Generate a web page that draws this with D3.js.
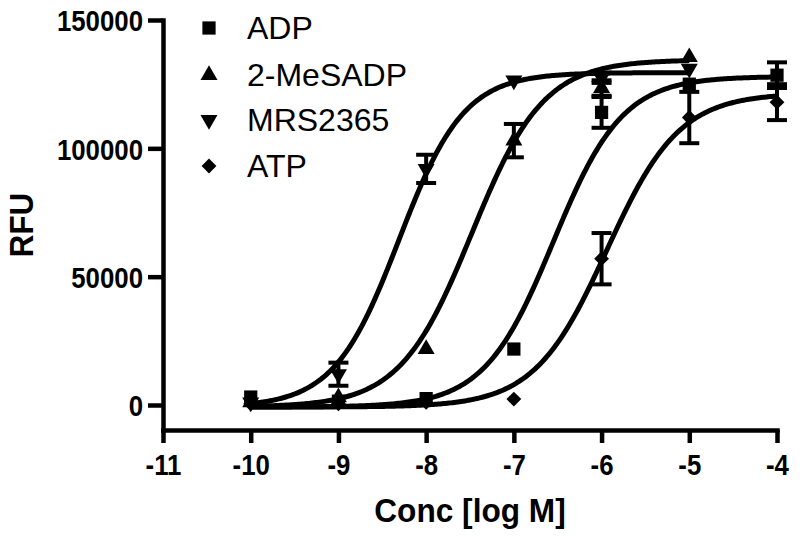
<!DOCTYPE html>
<html>
<head>
<meta charset="utf-8">
<script src="https://cdn.jsdelivr.net/npm/d3@7"></script>
<style>
  body { margin: 0; background: #fff; }
  svg { display: block; }
</style>
</head>
<body>
<div id="chart"></div>
<script>
// log concentrations where the points were measured
const logConc = [-10, -9, -8, -7, -6, -5, -4];
const seriesNames = ['ADP', '2-MeSADP', 'MRS2365', 'ATP'];

// mean RFU (null = not measured)
const adpMean = [3100, 1500, 2500, 21800, 114000, 125000, 128500];
const meSadpMean = [1000, 3000, 21800, 103000, 123500, 135500, null];
const mrsMean = [1000, 12000, 92000, 126500, 127500, 131000, null];
const atpMean = [500, 500, 1000, 2300, 57000, 112000, 118000];

// error (SEM), 0 = no bar drawn
const adpErr = [0, 0, 0, 0, 6000, 0, 5000];
const meSadpErr = [0, 0, 0, 6500, 3000, 0, 0];
const mrsErr = [0, 4500, 5500, 0, 2000, 0, 0];
const atpErr = [0, 0, 0, 0, 10000, 10000, 7000];

// sigmoidal fit parameters per series
const fitBottom = [-800, -800, -800, -800];
const fitTop = [128000, 134500, 129500, 121500];
const fitLogEC50 = [-6.55, -7.48, -8.31, -5.94];
const fitHill = [1.1, 1.06, 1.17, 1.05];
const fitEnd = [-4, -5, -5, -4];

const xTicks = [-11, -10, -9, -8, -7, -6, -5, -4];
const yTicks = [0, 50000, 100000, 150000];

const means = [adpMean, meSadpMean, mrsMean, atpMean];
const errs = [adpErr, meSadpErr, mrsErr, atpErr];

const width = 800, height = 537;
const svg = d3.select('#chart').append('svg')
  .attr('width', width)
  .attr('height', height);

const x = d3.scaleLinear().domain([-11, -4]).range([163, 777]);
const y = d3.scaleLinear().domain([-9740, 150000]).range([430, 20]);

const squeeze = 0.86; // tick labels look condensed

// symbols
const symbolFor = [
  d3.symbol().type(d3.symbolSquare).size(175),
  d3.symbol().type(d3.symbolTriangle).size(125),
  d3.symbol().type(d3.symbolTriangle).size(125),
  d3.symbol().type(d3.symbolSquare).size(110)
];
const rotateFor = [0, 0, 180, 45];

function drawSymbol(g, i, cx, cy) {
  g.append('path')
    .attr('d', symbolFor[i]())
    .attr('transform', `translate(${cx},${cy}) rotate(${rotateFor[i]})`)
    .attr('fill', '#000');
}

function fitValue(i, v) {
  return fitBottom[i] + (fitTop[i] - fitBottom[i]) /
    (1 + Math.pow(10, (fitLogEC50[i] - v) * fitHill[i]));
}

// axes (plain hyphen minus, like the original)
const xAxis = svg.append('g')
  .attr('transform', `translate(0,430)`)
  .call(d3.axisBottom(x).tickValues(xTicks).tickSize(13).tickSizeOuter(0).tickFormat(d => String(d)));

const yAxis = svg.append('g')
  .attr('transform', `translate(163,0)`)
  .call(d3.axisLeft(y).tickValues(yTicks).tickSize(15).tickSizeOuter(0).tickFormat(d => String(d)));

[xAxis, yAxis].forEach(a => {
  a.selectAll('path, line').attr('stroke', '#000').attr('stroke-width', 4.5);
  a.select('.domain').attr('stroke-linecap', 'square');
  a.selectAll('text')
    .attr('font-family', '"Liberation Sans", Arial, sans-serif')
    .attr('font-weight', 'bold')
    .attr('font-size', 30)
    .attr('fill', '#000');
});

xAxis.selectAll('text')
  .attr('y', 45)
  .attr('dy', 0)
  .attr('transform', `scale(${squeeze},1)`);

yAxis.selectAll('text')
  .attr('x', -20 / squeeze)
  .attr('dy', '0.36em')
  .attr('transform', `scale(${squeeze},1)`);

// axis titles
svg.append('text')
  .attr('transform', `translate(470,522) scale(0.93,1)`)
  .attr('text-anchor', 'middle')
  .attr('font-family', '"Liberation Sans", Arial, sans-serif')
  .attr('font-weight', 'bold')
  .attr('font-size', 34)
  .text('Conc [log M]');

svg.append('text')
  .attr('transform', `translate(33,225) rotate(-90) scale(0.92,1)`)
  .attr('text-anchor', 'middle')
  .attr('font-family', '"Liberation Sans", Arial, sans-serif')
  .attr('font-weight', 'bold')
  .attr('font-size', 34)
  .text('RFU');

// fitted curves
const line = d3.line().x(d => x(d[0])).y(d => y(d[1])).curve(d3.curveLinear);
const plot = svg.append('g');

seriesNames.forEach((name, i) => {
  const pts = d3.range(-10, fitEnd[i] + 0.001, 0.02).map(v => [v, fitValue(i, v)]);
  plot.append('path')
    .datum(pts)
    .attr('d', line)
    .attr('fill', 'none')
    .attr('stroke', '#000')
    .attr('stroke-width', 5);
});

// error bars + points
seriesNames.forEach((name, i) => {
  const g = plot.append('g');
  logConc.forEach((c, j) => {
    const m = means[i][j];
    if (m === null) return;
    const e = errs[i][j];
    if (e > 0) {
      g.append('line')
        .attr('x1', x(c)).attr('x2', x(c))
        .attr('y1', y(m - e)).attr('y2', y(m + e))
        .attr('stroke', '#000').attr('stroke-width', 4);
      [m - e, m + e].forEach(v => {
        g.append('line')
          .attr('x1', x(c) - 10).attr('x2', x(c) + 10)
          .attr('y1', y(v)).attr('y2', y(v))
          .attr('stroke', '#000').attr('stroke-width', 4);
      });
    }
    drawSymbol(g, i, x(c), y(m));
  });
});

// legend
const legendY = [28, 75, 120, 166];
const legend = svg.append('g');
seriesNames.forEach((name, i) => {
  drawSymbol(legend, i, 209, legendY[i]);
  legend.append('text')
    .attr('x', 247)
    .attr('y', legendY[i] + 11)
    .attr('font-family', '"Liberation Sans", Arial, sans-serif')
    .attr('font-size', 32)
    .attr('fill', '#000')
    .text(name);
});
</script>
</body>
</html>
